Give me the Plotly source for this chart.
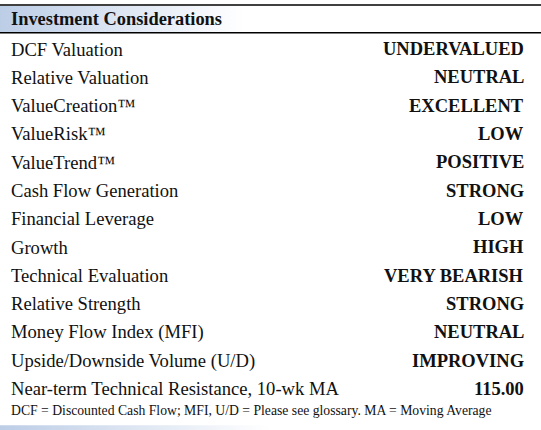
import plotly.graph_objects as go

title = "Investment Considerations"
labels = ["DCF Valuation", "Relative Valuation", "ValueCreation™", "ValueRisk™", "ValueTrend™",
          "Cash Flow Generation", "Financial Leverage", "Growth", "Technical Evaluation",
          "Relative Strength", "Money Flow Index (MFI)", "Upside/Downside Volume (U/D)",
          "Near-term Technical Resistance, 10-wk MA"]
values = ["UNDERVALUED", "NEUTRAL", "EXCELLENT", "LOW", "POSITIVE", "STRONG", "LOW", "HIGH",
          "VERY BEARISH", "STRONG", "NEUTRAL", "IMPROVING", "115.00"]
footnote = "DCF = Discounted Cash Flow; MFI, U/D = Please see glossary. MA = Moving Average"

FONT = "Liberation Serif, Times New Roman, serif"
TXT = "#111111"
fig = go.Figure()

fig.add_trace(go.Scatter(x=[0, 541, 541, 0, 0], y=[-1.52, -1.52, -0.6, -0.6, -1.52], mode="lines",
                         line=dict(width=0), fill="toself", hoverinfo="skip",
                         fillgradient=dict(type="horizontal",
                                           colorscale=[[0, "#bccde6"], [0.45, "#ffffff"], [1, "#ffffff"]])))
fig.add_trace(go.Scatter(x=[0, 541, 541, 0, 0], y=[13.28, 13.28, 13.45, 13.45, 13.28], mode="lines",
                         line=dict(width=0), fill="toself", hoverinfo="skip",
                         fillgradient=dict(type="horizontal",
                                           colorscale=[[0, "#bccde6"], [0.5, "#ffffff"], [1, "#ffffff"]])))

fig.add_shape(type="line", x0=0, x1=541, y0=-1.55, y1=-1.55, line=dict(color="#000", width=1.5))
fig.add_shape(type="line", x0=0, x1=541, y0=-0.57, y1=-0.57, line=dict(color="#000", width=1.5))

ann = [dict(x=9, y=-1.06, text="<b>" + title + "</b>", xanchor="left", yanchor="middle",
            showarrow=False, font=dict(family=FONT, size=18.4, color=TXT))]
for i, (l, v) in enumerate(zip(labels, values)):
    ann.append(dict(x=9, y=i, text=l, xanchor="left", yanchor="middle", showarrow=False,
                    font=dict(family=FONT, size=18.6, color=TXT)))
    ann.append(dict(x=526, y=i, text="<b>" + v + "</b>", xanchor="right", yanchor="middle",
                    showarrow=False, font=dict(family=FONT, size=18.5, color=TXT)))
ann.append(dict(x=9, y=12.77, text=footnote, xanchor="left", yanchor="middle", showarrow=False,
                font=dict(family=FONT, size=13.7, color=TXT)))

fig.update_layout(width=541, height=430, margin=dict(l=0, r=0, t=0, b=0),
                  paper_bgcolor="white", plot_bgcolor="white", showlegend=False,
                  annotations=ann,
                  xaxis=dict(range=[0, 541], visible=False, fixedrange=True),
                  yaxis=dict(range=[13.45, -1.73], visible=False, fixedrange=True))
fig.write_html("out.html", config={"displayModeBar": False},
               post_script="document.body.style.margin='0';document.body.style.overflow='hidden';")
